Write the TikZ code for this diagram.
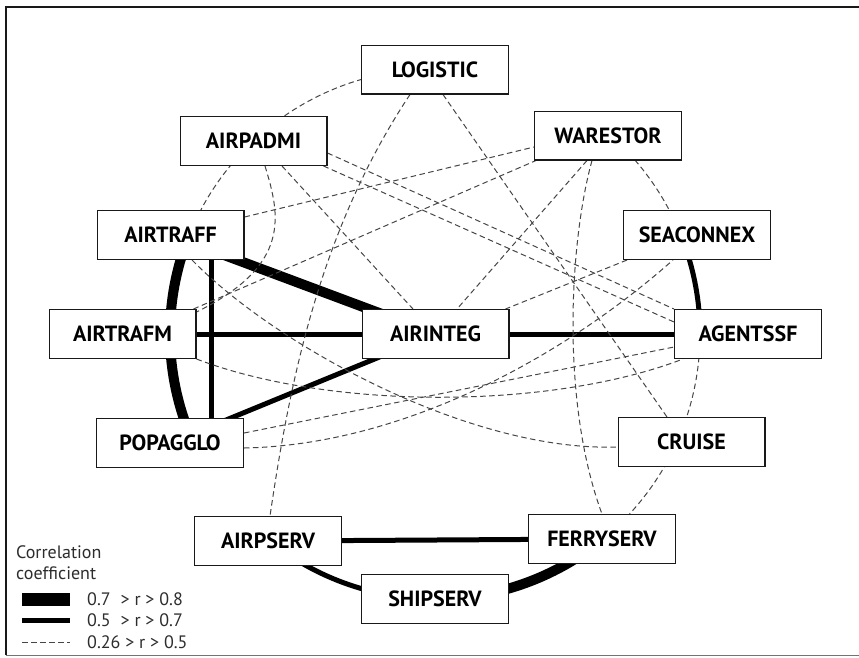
\documentclass[tikz,border=0pt]{standalone}
\usepackage{fontspec}
\setmainfont{PT Sans}
\usetikzlibrary{calc,backgrounds}
\pgfdeclarelayer{bottom}
\pgfsetlayers{bottom,background,main}
\definecolor{dashc}{RGB}{70,70,70}
\definecolor{legc}{RGB}{45,45,45}
\begin{document}
\begin{tikzpicture}[x=1pt,y=-1pt,
  box/.style={draw=black!90, line width=1.3pt, fill=white, minimum width=146.7pt,
    minimum height=48.7pt, inner sep=0pt, font=\fontsize{22}{24}\selectfont\bfseries},
  dsh/.style={dashc, line width=1pt, dash pattern=on 5.5pt off 3.5pt},
  wthick/.style={black, line width=10pt},
  wmed/.style={black, line width=5pt},
  legtext/.style={anchor=west, inner sep=0pt, text=legc, font=\fontsize{18}{20}\selectfont}]
\useasboundingbox (0,0) rectangle (859,657);
\begin{pgfonlayer}{bottom}
\fill[white] (0,0) rectangle (859,657);
\end{pgfonlayer}
% frame
\draw[line width=1.4pt, black!90] (6,655) -- (6,7) -- (870,7);
\draw[line width=1pt, black!55] (6,655) -- (870,655);

% nodes
\node[box] (LOGISTIC) at (435,69.5) {LOGISTIC};
\node[box] (AIRPADMI) at (253.5,141) {AIRPADMI};
\node[box] (WARESTOR) at (608,135.5) {WARESTOR};
\node[box] (AIRTRAFF) at (170.5,235) {AIRTRAFF};
\node[box] (SEACONNEX) at (697,235) {SEACONNEX};
\node[box] (AIRTRAFM) at (122.5,334) {AIRTRAFM};
\node[box] (AIRINTEG) at (435.5,334) {AIRINTEG};
\node[box] (AGENTSSF) at (748,334) {AGENTSSF};
\node[box] (POPAGGLO) at (170,443) {POPAGGLO};
\node[box] (CRUISE) at (691.5,442) {CRUISE};
\node[box] (AIRPSERV) at (268,541) {AIRPSERV};
\node[box] (FERRYSERV) at (602,539) {FERRYSERV};
\node[box] (SHIPSERV) at (435,599) {SHIPSERV};
\coordinate (C) at (435,334);

\begin{scope}[on background layer]
% dashed arcs on the ring
\draw[dsh] ([shift={(258:265)}]C) arc[start angle=258,end angle=232,radius=265];
\draw[dsh] ([shift={(222:265)}]C) arc[start angle=222,end angle=205,radius=265];
\draw[dsh] ([shift={(317:265)}]C) arc[start angle=317,end angle=335,radius=265];
\draw[dsh] ([shift={(3:265)}]C) arc[start angle=3,end angle=21,radius=265];
\draw[dsh] ([shift={(27:265)}]C) arc[start angle=27,end angle=45,radius=265];
% solid arcs on the ring
\draw[wthick] ([shift={(203:265)}]C) arc[start angle=203,end angle=180,radius=265];
\draw[wthick] ([shift={(180:265)}]C) arc[start angle=180,end angle=157,radius=265];
\draw[wmed] ([shift={(337:265)}]C) arc[start angle=337,end angle=360,radius=265];
\draw[wmed] ([shift={(122:265)}]C) arc[start angle=122,end angle=95,radius=265];
\draw[wthick] ([shift={(85:265)}]C) arc[start angle=85,end angle=55,radius=265];
% straight solid connectors
\draw[wthick] (AIRTRAFF.center) -- (AIRINTEG.center);
\draw[wmed] ([xshift=40.5pt]AIRTRAFF.center) -- ([xshift=41pt]POPAGGLO.center);
\draw[wmed] (AIRTRAFM.center) -- (AIRINTEG.center);
\draw[wmed] (POPAGGLO.center) -- (AIRINTEG.center);
\draw[wmed] (AIRINTEG.center) -- (AGENTSSF.center);
\draw[wmed] (AIRPSERV.center) -- (FERRYSERV.center);
% dashed connectors
\draw[dsh] ($(LOGISTIC.south)+(-25,0)$) .. controls (320,230) and (290,380) .. ($(AIRPSERV.north)+(2,0)$);
\draw[dsh] ($(LOGISTIC.south)+(8,0)$) -- ($(CRUISE.north)+(-24.5,0)$);
\draw[dsh] ($(AIRPADMI.south)+(11.5,0)$) .. controls (280,215) and (292,265) .. ($(AIRTRAFM.north east)+(0,3)$);
\draw[dsh] ($(AIRPADMI.south)+(28.5,0)$) -- ($(AIRINTEG.north)+(-22.5,0)$);
\draw[dsh] ($(AIRPADMI.east)+(0,12)$) -- (AGENTSSF.north west);
\draw[dsh] ($(AIRPADMI.south east)+(-4,0)$) -- ($(AGENTSSF.west)+(0,-12)$);
\draw[dsh] ($(AIRTRAFF.east)+(0,-18)$) -- ($(WARESTOR.west)+(0,11.5)$);
\draw[dsh] ($(AIRTRAFF.south)+(21.5,0)$) .. controls (275,345) and (470,452) .. ($(CRUISE.west)+(0,5)$);
\draw[dsh] ($(AIRTRAFM.north east)+(-3,0)$) -- ($(WARESTOR.south west)+(2,0)$);
\draw[dsh] (AIRTRAFM.south east) .. controls (330,410) and (550,410) .. ($(AGENTSSF.south west)+(9,0)$);
\draw[dsh] ($(POPAGGLO.east)+(0,-10)$) -- ($(AGENTSSF.west)+(0,13)$);
\draw[dsh] ($(POPAGGLO.east)+(0,5)$) .. controls (400,445) and (560,360) .. ($(SEACONNEX.south)+(-24,0)$);
\draw[dsh] ($(WARESTOR.south)+(-21,0)$) -- ($(AIRINTEG.north)+(21.5,0)$);
\draw[dsh] ($(WARESTOR.south)+(-16,0)$) .. controls (570,240) and (560,400) .. (FERRYSERV.north);
\draw[dsh] ($(SEACONNEX.south west)+(4,0)$) -- ($(AIRINTEG.north east)+(-4,0)$);
\end{scope}

% legend
\node[legtext] (legA) at (16,552) {Correlation};
\node[legtext] (legB) at (16,573) {coefficient};
\draw[line width=13pt] (22,599) -- (70,599);
\draw[line width=5.6pt] (22,620.5) -- (70,620.5);
\draw[dsh] (22,642) -- (70,642);
\node[legtext] (legC) at (87,599) {0.7\hspace{10pt}> r > 0.8};
\node[legtext] (legD) at (87,620.5) {0.5\hspace{10pt}> r > 0.7};
\node[legtext] (legE) at (87,642) {0.26 > r > 0.5};
\end{tikzpicture}
\end{document}
